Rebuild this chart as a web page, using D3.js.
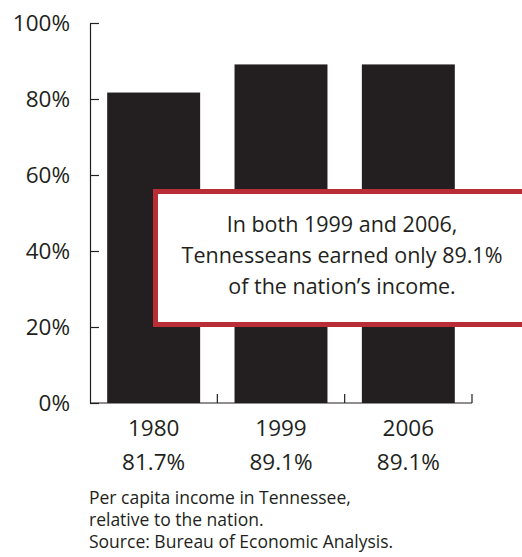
<!DOCTYPE html>
<html lang="en">
<head>
<meta charset="UTF-8">
<title>Tennessee per capita income</title>
<style>
	body { margin: 0; background: #fff; }
	svg text { font-family: "Open Sans", "Noto Sans", sans-serif; fill: #231f20; }
	.axis path, .axis line { stroke: #231f20; stroke-width: 1.2; }
</style>
</head>
<body>
<svg id="chart" width="522" height="557"></svg>
<script src="https://d3js.org/d3.v7.min.js"></script>
<script>
	var years = ["1980", "1999", "2006"];
	var values = [81.7, 89.1, 89.1];
	var valueLabels = ["81.7%", "89.1%", "89.1%"];
	var yTicks = [0, 20, 40, 60, 80, 100];
	var calloutLines = ["In both 1999 and 2006,", "Tennesseans earned only 89.1%", "of the nation\u2019s income."];
	var noteLines = ["Per capita income in Tennessee,", "relative to the nation.", "Source: Bureau of Economic Analysis."];

	var svg = d3.select("#chart");
	var ink = "#231f20";

	var y = d3.scaleLinear().domain([0, 100]).range([403, 23]);
	var x = d3.scaleBand().domain(years).range([90, 472])
		.paddingInner(0.27).paddingOuter(0.135);

	// bars
	svg.selectAll("rect.bar")
		.data(values)
		.enter().append("rect")
		.attr("class", "bar")
		.attr("x", function(d, i) { return x(years[i]); })
		.attr("y", function(d) { return y(d); })
		.attr("width", x.bandwidth())
		.attr("height", function(d) { return y(0) - y(d); })
		.attr("fill", ink);

	// y axis
	var yAxis = svg.append("g")
		.attr("class", "axis")
		.attr("transform", "translate(90,0)")
		.call(d3.axisLeft(y).tickValues(yTicks).tickSize(-9).tickSizeOuter(0)
			.tickPadding(20).tickFormat(function(d) { return d + "%"; }));
	yAxis.selectAll("text").style("font-size", "22.5px").attr("fill", ink);

	// x axis baseline with upward ticks at band edges
	var step = x.step();
	var edges = years.map(function(d, i) { return 90 + (i + 1) * step; });
	var xAxis = svg.append("g").attr("class", "axis");
	xAxis.append("line")
		.attr("x1", 90).attr("x2", edges[edges.length - 1])
		.attr("y1", y(0)).attr("y2", y(0));
	xAxis.selectAll("line.tick")
		.data(edges)
		.enter().append("line")
		.attr("class", "tick")
		.attr("x1", function(d) { return d; }).attr("x2", function(d) { return d; })
		.attr("y1", y(0)).attr("y2", y(0) - 9);

	// category labels
	var cx = function(d, i) { return x(years[i]) + x.bandwidth() / 2; };
	svg.selectAll("text.year")
		.data(years)
		.enter().append("text")
		.attr("class", "year")
		.attr("x", cx).attr("y", 436)
		.attr("text-anchor", "middle")
		.style("font-size", "22.5px")
		.text(function(d) { return d; });
	svg.selectAll("text.pct")
		.data(valueLabels)
		.enter().append("text")
		.attr("class", "pct")
		.attr("x", cx).attr("y", 470)
		.attr("text-anchor", "middle")
		.style("font-size", "22.5px")
		.text(function(d) { return d; });

	// callout box
	svg.append("rect")
		.attr("x", 155.5).attr("y", 191.5)
		.attr("width", 380).attr("height", 133)
		.attr("fill", "#fff")
		.attr("stroke", "#b92d36")
		.attr("stroke-width", 5);
	svg.selectAll("text.callout")
		.data(calloutLines)
		.enter().append("text")
		.attr("class", "callout")
		.attr("x", 342).attr("y", function(d, i) { return 232 + i * 31; })
		.attr("text-anchor", "middle")
		.style("font-size", "21.5px")
		.text(function(d) { return d; });

	// source note
	svg.selectAll("text.note")
		.data(noteLines)
		.enter().append("text")
		.attr("class", "note")
		.attr("x", 89).attr("y", function(d, i) { return 504 + i * 22; })
		.style("font-size", "17.5px")
		.text(function(d) { return d; });
</script>
</body>
</html>
